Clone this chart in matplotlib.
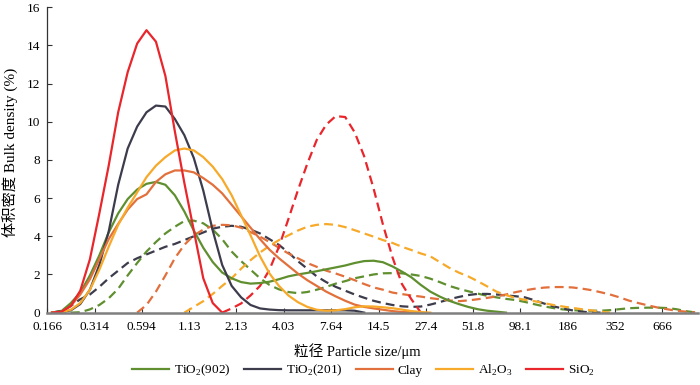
import numpy as np
import matplotlib
matplotlib.use("Agg")
import matplotlib.pyplot as plt

plt.rcParams["font.family"] = ["Liberation Serif", "Noto Sans CJK SC"]
plt.rcParams["mathtext.fontset"] = "custom"
plt.rcParams["mathtext.rm"] = "Liberation Serif"

nan = np.nan

# particle size bins (um)
sizes = [0.177, 0.201, 0.228, 0.259, 0.295,
         0.335, 0.380, 0.432, 0.491, 0.558,
         0.633, 0.719, 0.817, 0.928, 1.055,
         1.199, 1.362, 1.548, 1.758, 1.998,
         2.270, 2.579, 2.930, 3.329, 3.782,
         4.296, 4.880, 5.544, 6.299, 7.157,
         8.143, 9.252, 10.51, 11.94, 13.57,
         15.41, 17.51, 19.89, 22.60, 25.68,
         29.17, 33.14, 37.65, 42.78, 48.60,
         55.21, 62.73, 71.27, 80.96, 91.99,
         104.6, 118.8, 135.0, 153.3, 174.2,
         197.9, 224.9, 255.5, 290.3, 329.8,
         374.8, 425.8, 483.7, 549.6, 624.4,
         709.5, 806.0, 915.7, 1040.0]

tick_vals = [0.166, 0.314, 0.594, 1.13, 2.13, 4.03, 7.64, 14.5, 27.4,
             51.8, 98.1, 186, 352, 666]
tick_labels = ["0.166", "0.314", "0.594", "1.13", "2.13", "4.03", "7.64",
               "14.5", "27.4", "51.8", "98.1", "186", "352", "666"]

# solid curves
tio2_902 = [0, 0.08, 0.5, 1.05, 1.95,
            3.0, 4.2, 5.2, 5.95, 6.45,
            6.75, 6.85, 6.7, 6.15, 5.3,
            4.3, 3.4, 2.65, 2.1, 1.8,
            1.6, 1.52, 1.55, 1.62, 1.75,
            1.9, 2.0, 2.08, 2.17, 2.27,
            2.37, 2.47, 2.6, 2.7, 2.72,
            2.64, 2.42, 2.15, 1.85, 1.45,
            1.1, 0.84, 0.62, 0.45, 0.3,
            0.18, 0.1, 0.05, 0] + [nan] * 20
tio2_201 = [0, 0.02, 0.12, 0.45, 1.2,
            2.5, 4.25, 6.7, 8.6, 9.75,
            10.5, 10.85, 10.8, 10.15, 9.3,
            8.1, 6.4, 4.3, 2.5, 1.4,
            0.8, 0.4, 0.22, 0.16, 0.13,
            0.12, 0.12, 0.12, 0.12, 0.12,
            0.12, 0.12, 0.1, 0] + [nan] * 35
clay = [0, 0.03, 0.35, 0.95, 1.75,
        2.8, 3.85, 4.65, 5.4, 5.95,
        6.2, 6.85, 7.25, 7.45, 7.45,
        7.35, 7.05, 6.7, 6.25, 5.65,
        5.05, 4.45, 3.85, 3.3, 2.85,
        2.45, 2.05, 1.7, 1.4, 1.1,
        0.85, 0.62, 0.42, 0.3, 0.22,
        0.15, 0.08, 0.03, 0.02, 0] + [nan] * 29
al2o3 = [0, 0.02, 0.15, 0.5, 1.2,
         2.25, 3.45, 4.6, 5.5, 6.3,
         7.1, 7.7, 8.15, 8.5, 8.6,
         8.5, 8.15, 7.65, 7.0, 6.15,
         5.1, 4.05, 2.95, 2.05, 1.4,
         0.9, 0.55, 0.3, 0.15, 0.1,
         0.12, 0.18, 0.28, 0.33, 0.32,
         0.28, 0.23, 0.16, 0.08, 0.03,
         0] + [nan] * 28
sio2 = [0, 0.05, 0.35, 1.15, 2.8,
        5.2, 7.7, 10.5, 12.6, 14.1,
        14.8, 14.2, 12.4, 9.5, 6.8,
        4.3, 1.8, 0.5, 0] + [nan] * 50

# dashed curves
tio2_902_d = [nan, nan, 0, 0.02, 0.17,
              0.4, 0.75, 1.25, 1.95, 2.6,
              3.2, 3.7, 4.15, 4.5, 4.8,
              4.82, 4.68, 4.35, 3.85, 3.2,
              2.7, 2.25, 1.8, 1.45, 1.22,
              1.08, 1.02, 1.08, 1.2, 1.35,
              1.52, 1.65, 1.8, 1.9, 2.0,
              2.06, 2.07, 2.06, 2.0, 1.92,
              1.78, 1.6, 1.4, 1.25, 1.12,
              1.0, 0.88, 0.8, 0.72, 0.66,
              0.56, 0.44, 0.33, 0.24, 0.17,
              0.13, 0.1, 0.1, 0.1, 0.13,
              0.18, 0.23, 0.25, 0.26, 0.26,
              0.24, 0.18, 0.08, 0.01]
tio2_201_d = [0, 0.1, 0.35, 0.7, 0.95,
              1.35, 1.8, 2.2, 2.6, 2.85,
              3.05, 3.25, 3.45, 3.6, 3.8,
              4.0, 4.2, 4.4, 4.5, 4.55,
              4.5, 4.35, 4.15, 3.85, 3.55,
              3.15, 2.7, 2.3, 1.9, 1.6,
              1.35, 1.15, 0.95, 0.78, 0.62,
              0.5, 0.4, 0.33, 0.3, 0.32,
              0.42, 0.55, 0.7, 0.82, 0.92,
              0.98, 0.98, 0.95, 0.9, 0.86,
              0.8, 0.65, 0.48, 0.33, 0.22,
              0.12, 0.05, 0.01, 0] + [nan] * 10
clay_d = [nan] * 9 + [0,
          0.4, 1.1, 1.95, 2.85, 3.55,
          4.05, 4.35, 4.55, 4.6, 4.58,
          4.45, 4.22, 3.98, 3.7, 3.4,
          3.1, 2.85, 2.6, 2.4, 2.2,
          2.05, 1.88, 1.7, 1.5, 1.32,
          1.2, 1.05, 0.97, 0.9, 0.84,
          0.76, 0.7, 0.64, 0.6, 0.64,
          0.7, 0.77, 0.85, 0.95, 1.07,
          1.17, 1.25, 1.31, 1.34, 1.34,
          1.32, 1.26, 1.18, 1.07, 0.95,
          0.8, 0.63, 0.5, 0.38, 0.27,
          0.18, 0.1, 0.05, 0.01]
al2o3_d = [nan] * 14 + [0,
           0.3, 0.6, 0.98, 1.4, 1.8,
           2.3, 2.75, 3.15, 3.5, 3.8,
           4.05, 4.3, 4.5, 4.6, 4.64,
           4.6, 4.48, 4.32, 4.15, 3.98,
           3.8, 3.65, 3.45, 3.28, 3.1,
           2.95, 2.65, 2.35, 2.1, 1.9,
           1.65, 1.38, 1.1, 0.92, 0.77,
           0.67, 0.6, 0.5, 0.4, 0.32,
           0.25, 0.18, 0.12, 0.05, 0] + [nan] * 9
sio2_d = [nan] * 18 + [0, 0.22,
          0.48, 0.9, 1.4, 2.25, 3.45,
          4.9, 6.4, 7.8, 9.05, 9.85,
          10.3, 10.25, 9.45, 8.2, 6.5,
          4.6, 2.9, 1.5, 0.7, 0] + [nan] * 29

names = [r"TiO$_\mathregular{2}$(902)", r"TiO$_\mathregular{2}$(201)", "Clay",
         r"Al$_\mathregular{2}$O$_\mathregular{3}$", r"SiO$_\mathregular{2}$"]
colors = ["#5f8f2f", "#3c3c4c", "#e2703c", "#f7a92a", "#e8262b"]
solid = [tio2_902, tio2_201, clay, al2o3, sio2]
dashed = [tio2_902_d, tio2_201_d, clay_d, al2o3_d, sio2_d]

fig = plt.figure(figsize=(7, 3.85), dpi=100)
ax = fig.add_axes([0.0676, 0.188, 0.9294, 0.793])

for vals, c in zip(dashed, colors):
    ax.plot(sizes, vals, color=c, lw=1.6, dashes=(4, 2.3))
handles = []
for vals, c, n in zip(solid, colors, names):
    h, = ax.plot(sizes, vals, color=c, lw=1.6, label=n)
    handles.append(h)

ax.set_xscale("log")
ax.set_xlim(0.166, 1080)
ax.set_ylim(0, 16)
ax.set_xticks(tick_vals)
ax.set_xticklabels(tick_labels)
ax.minorticks_off()
ax.set_yticks(range(0, 17, 2))

for s in ["top", "right"]:
    ax.spines[s].set_visible(False)
ax.spines["left"].set_color("#333333")
ax.spines["left"].set_linewidth(0.9)
ax.spines["bottom"].set_color("#7f7f7f")
ax.spines["bottom"].set_linewidth(1.8)
ax.tick_params(axis="both", direction="in", length=3.5, width=0.8,
               color="#333333", labelsize=9.5)
ax.tick_params(axis="x", pad=6)
ax.tick_params(axis="y", pad=5)

ax.set_xlabel("粒径 Particle size/μm", fontsize=10.5)
ax.xaxis.set_label_coords(0.476, -0.10)
ax.set_ylabel("体积密度 Bulk density (%)", fontsize=11)
ax.yaxis.set_label_coords(-0.045, 0.526)

fig.legend(handles=handles, loc="center", bbox_to_anchor=(0.519, 0.038),
           ncol=5, frameon=False, fontsize=9.5, handlelength=2.8,
           handletextpad=0.4, columnspacing=1.0)

fig.savefig("out.png", dpi=100)
